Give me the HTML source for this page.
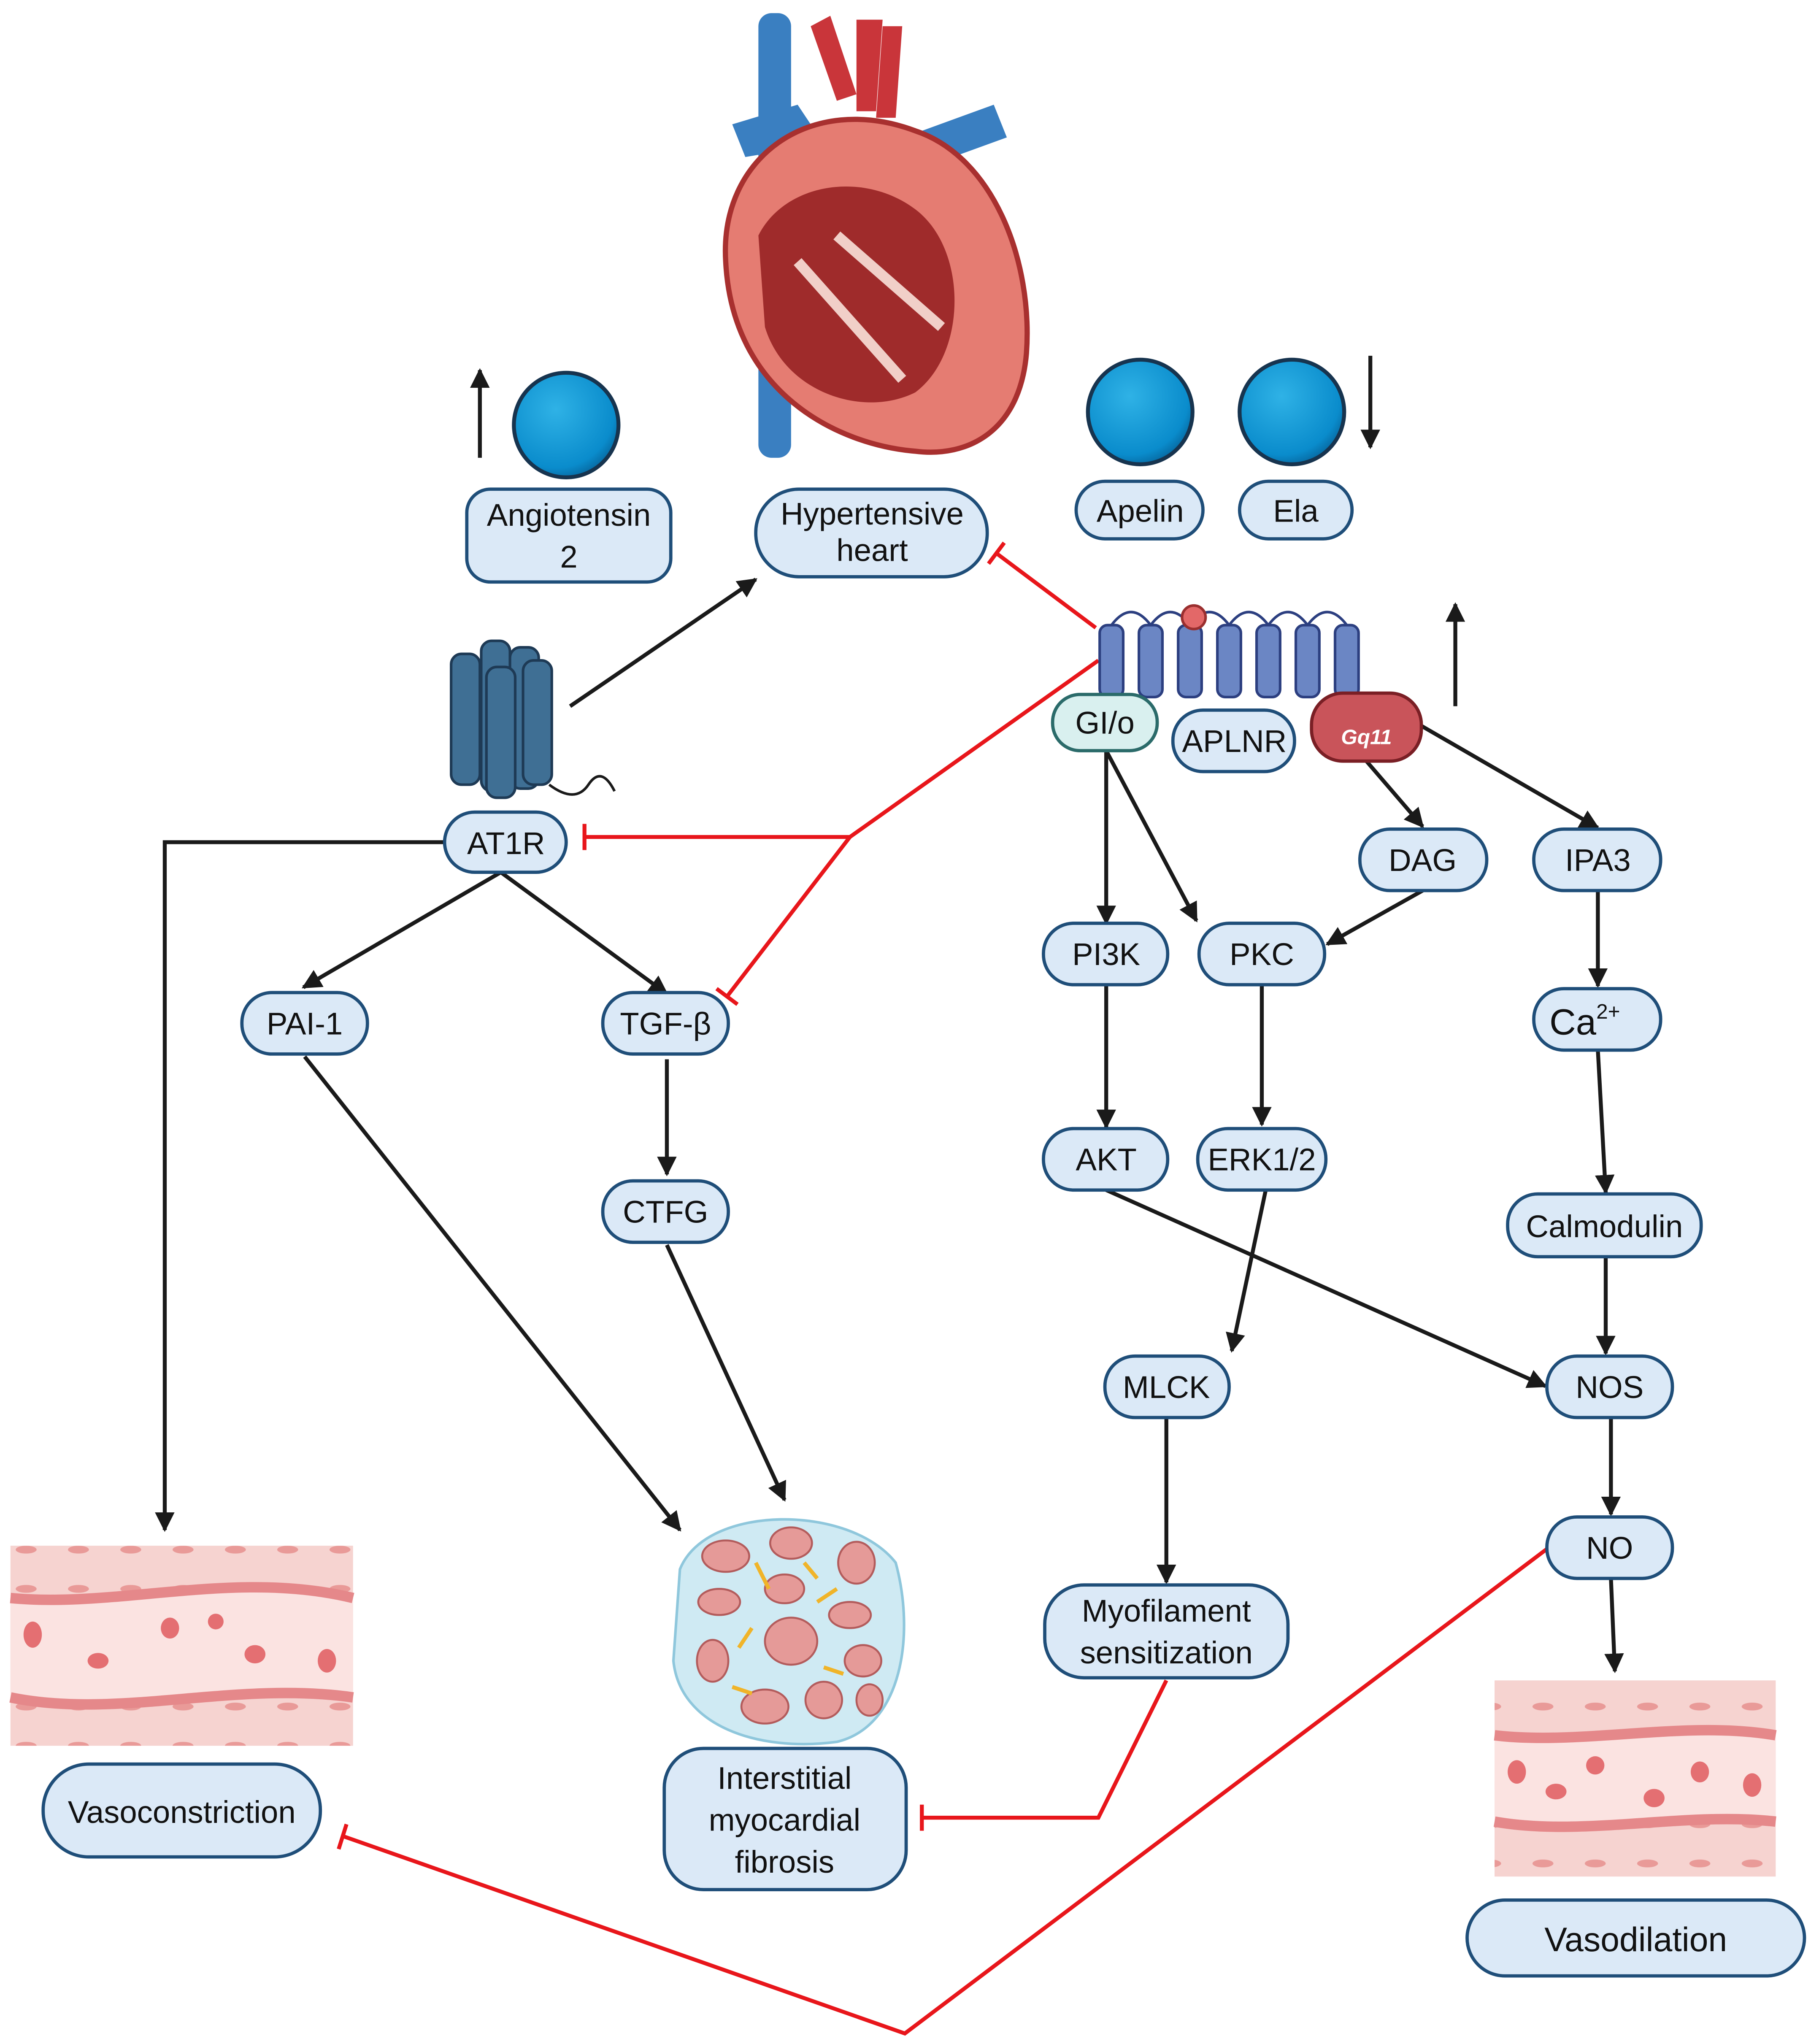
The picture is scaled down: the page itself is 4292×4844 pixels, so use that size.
<!DOCTYPE html>
<html><head><meta charset="utf-8"><style>html,body{margin:0;padding:0;background:#fff}svg{display:block}</style></head>
<body>
<svg width="4292" height="4844" viewBox="0 0 1385 1563" xmlns="http://www.w3.org/2000/svg" font-family="Liberation Sans, sans-serif">
<defs>
<marker id="a" viewBox="0 0 10 10" refX="9" refY="5" markerWidth="5" markerHeight="5" orient="auto"><path d="M0,0L10,5L0,10z" fill="#1a1a1a"/></marker>
<radialGradient id="sp" cx="0.4" cy="0.35" r="0.7"><stop offset="0" stop-color="#2fb2e6"/><stop offset="0.8" stop-color="#0a8ccc"/><stop offset="1" stop-color="#06639a"/></radialGradient>
<pattern id="vs" width="40" height="30" patternUnits="userSpaceOnUse"><rect width="40" height="30" fill="#f6d3d0"/><ellipse cx="20" cy="15" rx="8" ry="3" fill="#e99a98"/></pattern>
</defs>
<g stroke="#1a1a1a" stroke-width="3" fill="none" marker-end="url(#a)">
<path d="M436,540L578,443"/>
<path d="M340,644H126V1170"/>
<path d="M383,667L232,755"/><path d="M383,667L510,760"/>
<path d="M510,810V898"/>
<path d="M233,808L520,1170"/>
<path d="M510,952L600,1147"/>
<path d="M846,574V706"/><path d="M846,574L915,704"/>
<path d="M1045,582L1088,632"/><path d="M1087,555L1222,633"/>
<path d="M1088,681L1015,722"/>
<path d="M1222,681V754"/>
<path d="M846,753V862"/><path d="M965,753V860"/>
<path d="M1222,803L1228,912"/><path d="M1228,961V1035"/>
<path d="M846,910L1182,1060"/><path d="M968,910L942,1033"/>
<path d="M892,1084V1210"/><path d="M1232,1084V1158"/><path d="M1232,1207L1235,1278"/>
<path d="M367,350V283"/><path d="M1048,272V342"/><path d="M1113,540V462"/>
</g>
<g stroke="#e8161b" stroke-width="3" fill="none">
<path d="M838,480L762,423M756,431L768,415"/>
<path d="M840,505L650,640H447M447,630V650"/>
<path d="M650,640L556,762M548,756L564,768"/>
<path d="M892,1285L840,1390H705M705,1380V1400"/>
<path d="M1185,1183L692,1555L262,1404M259,1414L265,1395"/>
</g>
<!-- heart -->
<g>
<rect x="580" y="10" width="25" height="340" rx="10" fill="#3a7fc1"/>
<path d="M620,20l15,-8l20,60l-15,5zM655,15h20l-5,70h-15zM675,20h15l-5,70h-15z" fill="#c9353a"/>
<path d="M560,95l50,-15l20,30l-60,10z" fill="#3a7fc1"/>
<path d="M650,120l110,-40l10,25l-110,40z" fill="#3a7fc1"/>
<path d="M555,200C550,120 620,70 700,100C760,120 790,200 785,270C780,330 740,350 700,345C640,340 560,300 555,200z" fill="#e57c72" stroke="#a8302f" stroke-width="4"/>
<path d="M580,180C600,140 660,130 700,160C740,190 740,270 700,300C660,320 600,300 585,250z" fill="#9f2b2b"/>
<path d="M610,200L690,290M640,180L720,250" stroke="#f1cfc8" stroke-width="8"/>
</g>
<!-- spheres -->
<circle cx="433" cy="325" r="40" fill="url(#sp)" stroke="#17344f" stroke-width="3"/>
<circle cx="872" cy="315" r="40" fill="url(#sp)" stroke="#17344f" stroke-width="3"/>
<circle cx="988" cy="315" r="40" fill="url(#sp)" stroke="#17344f" stroke-width="3"/>
<!-- AT1R receptor -->
<g fill="#3f6f94" stroke="#1e3a55" stroke-width="2">
<rect x="345" y="500" width="22" height="100" rx="8"/><rect x="368" y="490" width="22" height="115" rx="8"/><rect x="390" y="495" width="22" height="108" rx="8"/><rect x="372" y="510" width="22" height="100" rx="8"/><rect x="400" y="505" width="22" height="95" rx="8"/>
</g>
<path d="M420,600q20,15 30,0t20,5" stroke="#1a1a1a" stroke-width="2" fill="none"/>
<!-- APLNR receptor -->
<path d="M850,478q15,-20 30,0q15,-20 30,0q15,-20 30,0q15,-20 30,0q15,-20 30,0q15,-20 30,0" stroke="#2c3f80" stroke-width="2" fill="none"/>
<g fill="#6b86c4" stroke="#2c3f80" stroke-width="2">
<rect x="841" y="478" width="18" height="55" rx="6"/><rect x="871" y="478" width="18" height="55" rx="6"/><rect x="901" y="478" width="18" height="55" rx="6"/><rect x="931" y="478" width="18" height="55" rx="6"/><rect x="961" y="478" width="18" height="55" rx="6"/><rect x="991" y="478" width="18" height="55" rx="6"/><rect x="1021" y="478" width="18" height="55" rx="6"/>
</g>
<circle cx="913" cy="472" r="9" fill="#e36868" stroke="#9a2f2f" stroke-width="2"/>
<!-- vessels -->
<g>
<rect x="8" y="1182" width="262" height="153" fill="url(#vs)"/>
<path d="M8,1222C90,1230 180,1200 270,1222V1298C180,1285 90,1315 8,1298z" fill="#fbe3e1"/>
<path d="M8,1222C90,1230 180,1200 270,1222M8,1298C90,1315 180,1285 270,1298" stroke="#e5888a" stroke-width="8" fill="none"/>
<g fill="#e46f72"><ellipse cx="25" cy="1250" rx="7" ry="10"/><ellipse cx="75" cy="1270" rx="8" ry="6"/><ellipse cx="130" cy="1245" rx="7" ry="8"/><ellipse cx="195" cy="1265" rx="8" ry="7"/><ellipse cx="250" cy="1270" rx="7" ry="9"/><ellipse cx="165" cy="1240" rx="6" ry="6"/></g>
<rect x="1143" y="1285" width="215" height="150" fill="url(#vs)"/>
<path d="M1143,1327C1210,1335 1290,1315 1358,1327V1393C1290,1385 1210,1405 1143,1393z" fill="#fbe3e1"/>
<path d="M1143,1327C1210,1335 1290,1315 1358,1327M1143,1393C1210,1405 1290,1385 1358,1393" stroke="#e5888a" stroke-width="8" fill="none"/>
<g fill="#e46f72"><ellipse cx="1160" cy="1355" rx="7" ry="9"/><ellipse cx="1190" cy="1370" rx="8" ry="6"/><ellipse cx="1220" cy="1350" rx="7" ry="7"/><ellipse cx="1265" cy="1375" rx="8" ry="7"/><ellipse cx="1300" cy="1355" rx="7" ry="8"/><ellipse cx="1340" cy="1365" rx="7" ry="9"/></g>
<path d="M520,1200C540,1150 650,1150 685,1195C700,1250 690,1320 640,1332C580,1340 520,1320 515,1270z" fill="#cfeaf3" stroke="#8fc7dc" stroke-width="2"/>
<g fill="#e59a98" stroke="#b35c5c" stroke-width="1.5">
<ellipse cx="555" cy="1190" rx="18" ry="12"/><ellipse cx="605" cy="1180" rx="16" ry="12"/><ellipse cx="655" cy="1195" rx="14" ry="16"/><ellipse cx="550" cy="1225" rx="16" ry="10"/><ellipse cx="600" cy="1215" rx="15" ry="11"/><ellipse cx="650" cy="1235" rx="16" ry="10"/><ellipse cx="545" cy="1270" rx="12" ry="16"/><ellipse cx="605" cy="1255" rx="20" ry="18"/><ellipse cx="660" cy="1270" rx="14" ry="12"/><ellipse cx="585" cy="1305" rx="18" ry="13"/><ellipse cx="630" cy="1300" rx="14" ry="14"/><ellipse cx="665" cy="1300" rx="10" ry="12"/>
</g>
<path d="M578,1195l10,20M625,1225l15,-10M575,1245l-10,15M630,1275l15,5M560,1290l15,5M615,1195l10,12" stroke="#f0b429" stroke-width="3"/>
</g>
<!-- nodes -->
<g fill="#dbe9f7" stroke="#1f4e79" stroke-width="2.5">
<rect x="357" y="374" width="156" height="71" rx="18"/>
<rect x="578" y="374" width="177" height="67" rx="33"/>
<rect x="823" y="368" width="97" height="44" rx="22"/>
<rect x="948" y="368" width="86" height="44" rx="22"/>
<rect x="340" y="621" width="93" height="46" rx="23"/>
<rect x="897" y="543" width="93" height="47" rx="23"/>
<rect x="1040" y="634" width="97" height="47" rx="23"/>
<rect x="1173" y="634" width="97" height="47" rx="23"/>
<rect x="798" y="706" width="95" height="47" rx="23"/>
<rect x="917" y="706" width="96" height="47" rx="23"/>
<rect x="185" y="759" width="96" height="47" rx="23"/>
<rect x="461" y="759" width="96" height="47" rx="23"/>
<rect x="1173" y="756" width="97" height="47" rx="23"/>
<rect x="798" y="863" width="95" height="47" rx="23"/>
<rect x="916" y="863" width="98" height="47" rx="23"/>
<rect x="461" y="903" width="96" height="47" rx="23"/>
<rect x="1153" y="913" width="148" height="48" rx="23"/>
<rect x="845" y="1037" width="95" height="47" rx="23"/>
<rect x="1183" y="1037" width="96" height="47" rx="23"/>
<rect x="1183" y="1160" width="96" height="47" rx="23"/>
<rect x="799" y="1212" width="186" height="71" rx="30"/>
<rect x="33" y="1349" width="212" height="71" rx="35"/>
<rect x="508" y="1337" width="185" height="108" rx="30"/>
<rect x="1122" y="1453" width="258" height="58" rx="29"/>
</g>
<rect x="805" y="531" width="80" height="43" rx="21" fill="#d9f0ef" stroke="#2b6b6a" stroke-width="2.5"/>
<rect x="1003" y="530" width="84" height="52" rx="24" fill="#c9545a" stroke="#7a1f25" stroke-width="2.5"/>
<g font-size="24" fill="#111" text-anchor="middle">
<text x="435" y="402">Angiotensin</text><text x="435" y="434">2</text>
<text x="667" y="401">Hypertensive</text><text x="667" y="429">heart</text>
<text x="872" y="399">Apelin</text><text x="991" y="399">Ela</text>
<text x="387" y="653">AT1R</text>
<text x="845" y="561">GI/o</text>
<text x="944" y="575">APLNR</text>
<text x="1088" y="666">DAG</text><text x="1222" y="666">IPA3</text>
<text x="846" y="738">PI3K</text><text x="965" y="738">PKC</text>
<text x="233" y="791">PAI-1</text><text x="509" y="791">TGF-β</text>
<text x="1212" y="791" font-size="28">Ca<tspan font-size="16" dy="-12">2+</tspan></text>
<text x="846" y="895">AKT</text><text x="965" y="895">ERK1/2</text>
<text x="509" y="935">CTFG</text>
<text x="1227" y="946">Calmodulin</text>
<text x="892" y="1069">MLCK</text><text x="1231" y="1069">NOS</text><text x="1231" y="1192">NO</text>
<text x="892" y="1240">Myofilament</text><text x="892" y="1272">sensitization</text>
<text x="139" y="1394">Vasoconstriction</text>
<text x="600" y="1368">Interstitial</text><text x="600" y="1400">myocardial</text><text x="600" y="1432">fibrosis</text>
<text x="1251" y="1492" font-size="26">Vasodilation</text>
<text x="1045" y="569" font-size="16" font-weight="bold" font-style="italic" fill="#fff">Gq11</text>
</g>
</svg>
</body></html>
